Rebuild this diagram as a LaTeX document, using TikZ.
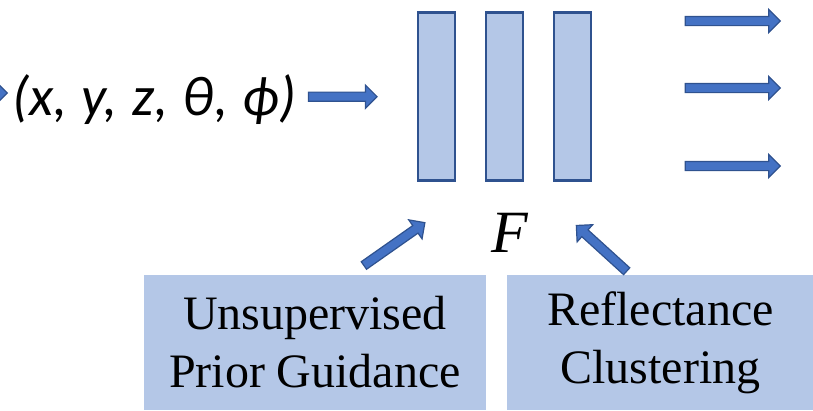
\documentclass[tikz,border=0pt]{standalone}
\usepackage{fontspec}
\setmainfont{Liberation Serif}
\newfontfamily\tuplefont{Carlito}
\usetikzlibrary{shapes.arrows, calc, positioning}
\definecolor{layerfill}{HTML}{B4C7E7}
\definecolor{layerline}{HTML}{2F528F}
\definecolor{arrowfill}{HTML}{4472C4}
\tikzset{
  Layer/.style = {
    draw = layerline, fill = layerfill, line width = 2.5pt,
    minimum width = 37pt, minimum height = 168pt, inner sep = 0pt,
  },
  Guide/.style = {
    fill = layerfill, inner sep = 0pt, align = center,
    minimum height = 135pt, font = \fontsize{48}{58}\selectfont,
  },
  BlockArrow/.style = {
    single arrow, draw = layerline, fill = arrowfill, line width = 1.2pt,
    inner sep = 4pt, single arrow head extend = 7pt,
    single arrow tip angle = 90, minimum width = 22pt,
  }
}
\newcommand{\blockarrow}[2]{%
  \path let \p1 = ($(#2)-(#1)$), \n1 = {atan2(\y1,\x1)}, \n2 = {veclen(\x1,\y1)} in
    node[BlockArrow, minimum height = \n2, rotate = \n1] at ($(#1)!0.5!(#2)$) {};}

\begin{document}
\begin{tikzpicture}[x = 1pt, y = -1pt]
  \useasboundingbox (0,0) rectangle (813,410);
  \clip (0,0) rectangle (813,410);

  % network layers
  \foreach \i in {1,2,3}
    \node[Layer] (layer\i) at (368.5+68*\i, 96.7) {};
  \node[font = \fontsize{60}{60}\selectfont\itshape, inner sep = 0pt] (F) at (510,233) {F};

  % input
  \node[anchor = base west, inner sep = 0pt,
        font = \tuplefont\itshape\fontsize{56}{56}\selectfont] (tuple) at (12,115)
        {\spaceskip = 14.5pt (x, y, z, θ, ϕ)};

  % guidance boxes
  \node[Guide, minimum width = 342pt] (prior) at (315,342.5) {Unsupervised\\Prior Guidance};
  \node[Guide, minimum width = 306pt, right = 21pt of prior] (cluster) {Reflectance\\Clustering};

  % arrows
  \coordinate (src tail) at (-70,93);
  \coordinate (src tip) at (5,93);
  \blockarrow{src tail}{src tip}
  \coordinate (in tail) at ($(tuple.east |- layer1.west)+(10,0)$);
  \coordinate (in tip) at ($(layer1.west)+(-42,0)$);
  \blockarrow{in tail}{in tip}
  \foreach \y [count = \i] in {21,88,166} {
    \coordinate (out\i tail) at (683,\y);
    \coordinate (out\i tip) at (778,\y);
    \blockarrow{out\i tail}{out\i tip}
  }
  \coordinate (prior tail) at ($(prior.north)+(47,-8)$);
  \coordinate (prior tip) at ($(F)+(-87,-9)$);
  \blockarrow{prior tail}{prior tip}
  \coordinate (cluster tail) at ($(cluster.north)+(-32,-2)$);
  \coordinate (cluster tip) at ($(F)+(68,-6)$);
  \blockarrow{cluster tail}{cluster tip}
\end{tikzpicture}
\end{document}
